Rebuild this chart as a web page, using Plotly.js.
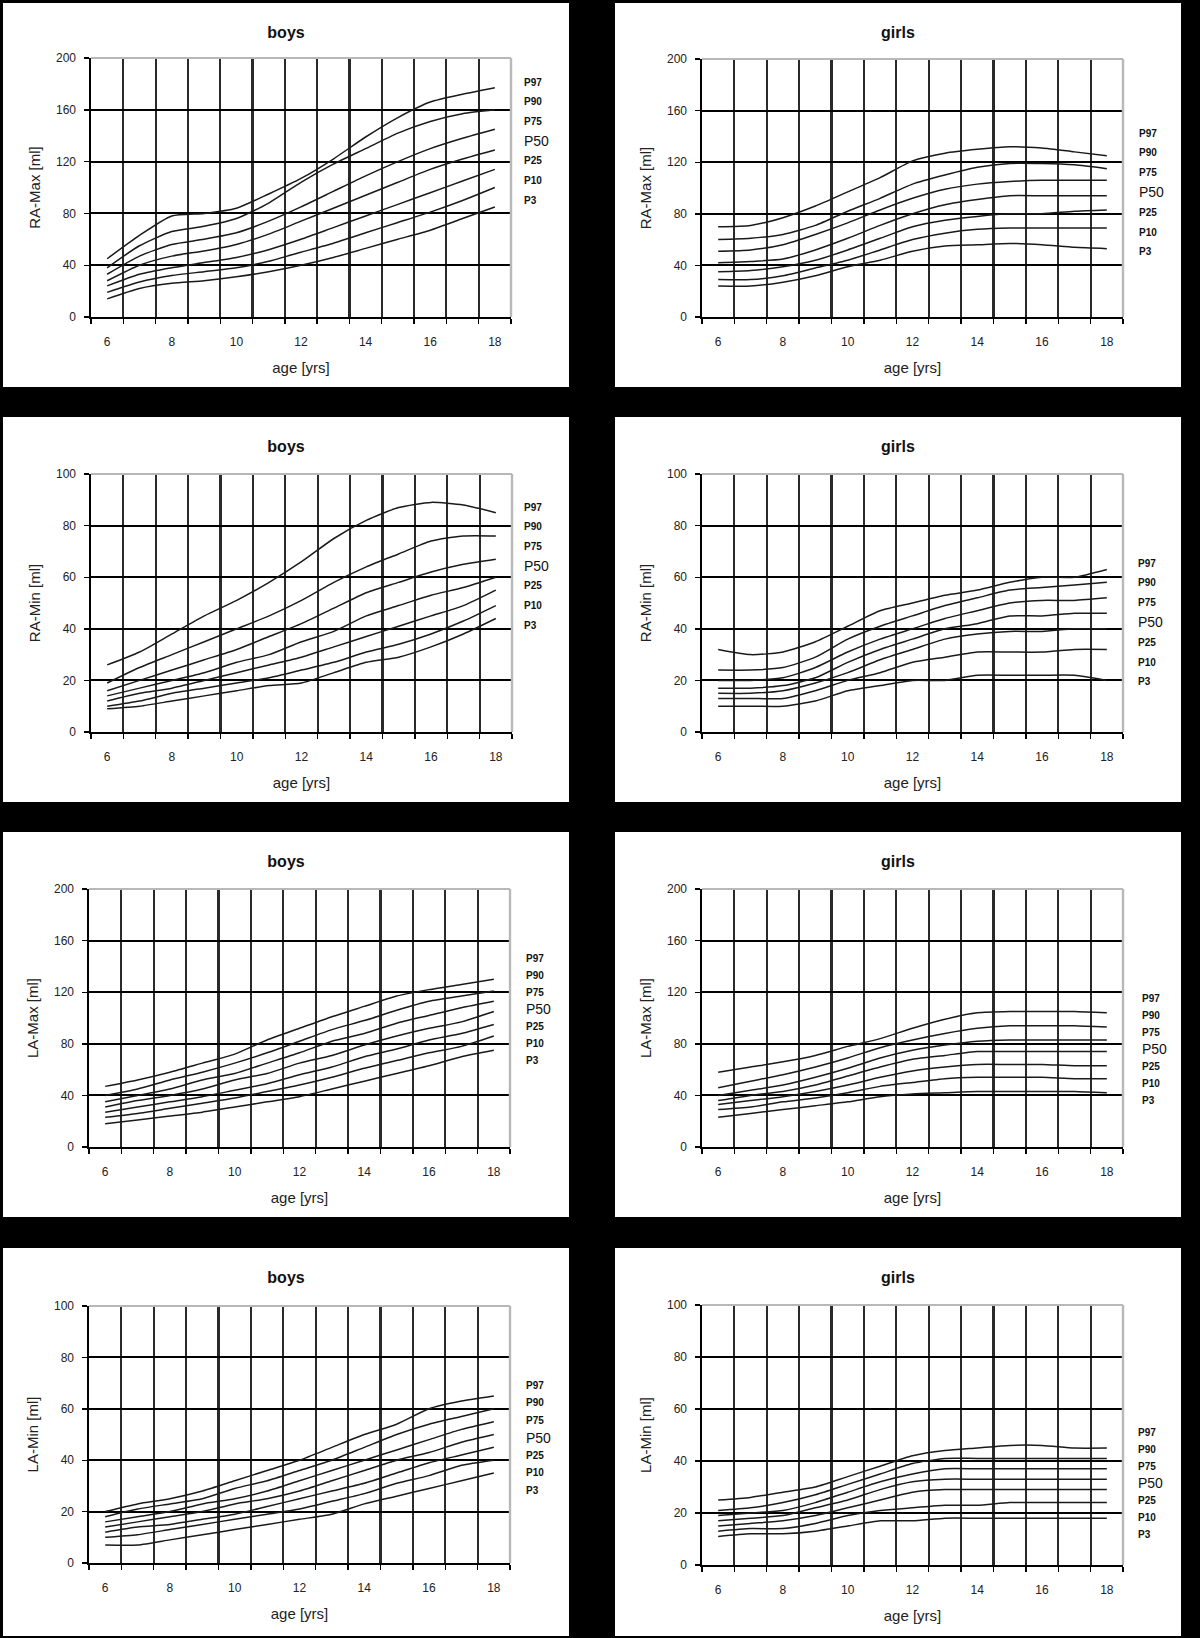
<!DOCTYPE html>
<html>
<head>
<meta charset="utf-8">
<script src="https://cdn.plot.ly/plotly-3.0.1.min.js"></script>
<style>
html,body{margin:0;padding:0;background:#000;}
body{width:1200px;height:1638px;position:relative;overflow:hidden;}
.panel{position:absolute;background:#fff;}
</style>
</head>
<body>
<div id="p1" class="panel"></div>
<div id="p2" class="panel"></div>
<div id="p3" class="panel"></div>
<div id="p4" class="panel"></div>
<div id="p5" class="panel"></div>
<div id="p6" class="panel"></div>
<div id="p7" class="panel"></div>
<div id="p8" class="panel"></div>
<script>
// ---------- data ----------
const ages = [6,7,8,9,10,11,12,13,14,15,16,17,18];
const xTickVals = [6,8,10,12,14,16,18];
const percentileLabels = ['P97','P90','P75','P50','P25','P10','P3'];

// series order in every table: P97, P90, P75, P50, P25, P10, P3
const raMaxBoys = [
  [45,63,78,80,84,95,107,122,139,154,166,172,177],
  [38,55,66,70,76,88,104,118,130,142,151,157,160],
  [33,47,56,60,65,74,85,97,109,120,130,138,145],
  [28,40,47,51,56,64,74,84,94,104,114,122,129],
  [24,33,38,42,46,52,60,69,78,87,96,105,114],
  [19,27,32,35,38,43,50,57,65,73,81,90,100],
  [14,22,26,28,31,35,40,46,53,60,67,76,85]
];
const raMaxGirls = [
  [70,71,77,86,97,108,121,127,130,132,131,128,125],
  [60,61,64,71,82,92,103,110,116,119,119,118,115],
  [51,52,56,64,73,83,92,99,103,105,106,106,106],
  [42,43,45,52,61,71,80,87,91,94,94,94,94],
  [35,36,39,44,52,61,70,75,78,80,80,82,83],
  [29,29,32,38,44,52,60,65,68,69,69,69,69],
  [24,24,27,32,39,44,51,55,56,57,56,54,53]
];
const raMinBoys = [
  [26,31,38,45,51,58,66,75,82,87,89,88,85],
  [19,25,30,35,40,45,51,58,64,69,74,76,76],
  [16,20,24,28,32,37,42,48,54,58,62,65,67],
  [14,17,20,23,27,30,35,39,45,49,53,56,60],
  [12,15,17,20,23,26,29,33,37,41,45,49,55],
  [10,12,15,17,19,21,24,27,31,34,38,43,49],
  [9,10,12,14,16,18,19,23,27,29,33,38,44]
];
const raMinGirls = [
  [32,30,31,35,41,47,50,53,55,58,60,60,63],
  [24,24,25,29,36,41,45,49,52,55,56,57,58],
  [20,20,21,25,31,36,40,44,47,50,51,51,52],
  [17,17,18,21,27,32,36,40,42,45,45,46,46],
  [15,15,16,19,23,28,32,36,38,39,39,40,40],
  [13,13,13,16,20,23,27,29,31,31,31,32,32],
  [10,10,10,12,16,18,20,20,22,22,22,22,20]
];
const laMaxBoys = [
  [47,52,58,65,72,83,92,101,109,117,122,126,130],
  [40,45,52,58,65,73,82,91,98,106,113,117,121],
  [35,40,45,52,57,65,73,82,88,96,102,108,113],
  [31,36,40,45,52,57,65,71,79,86,92,97,105],
  [27,31,35,39,44,49,56,62,70,76,83,88,95],
  [23,26,30,34,38,43,48,54,61,67,73,78,86],
  [18,21,24,27,31,35,39,45,51,57,63,70,75]
];
const laMaxGirls = [
  [58,62,66,71,78,84,92,99,104,105,105,105,104],
  [46,51,56,62,69,77,83,88,92,94,94,94,93],
  [40,44,48,54,61,69,75,79,82,83,83,83,83],
  [36,40,43,48,55,62,68,71,74,74,74,74,74],
  [33,36,39,43,48,54,59,62,64,64,64,63,63],
  [29,31,35,38,42,47,50,53,54,54,54,53,53],
  [23,26,29,32,35,39,41,42,43,43,43,43,42]
];
const laMinBoys = [
  [20,23,25,28,32,36,40,45,50,54,60,63,65],
  [18,21,23,25,29,32,36,40,45,50,54,57,60],
  [16,18,20,23,25,28,32,36,40,44,48,52,55],
  [14,16,18,20,23,25,28,32,36,40,43,47,50],
  [12,14,15,17,19,22,25,28,31,35,39,42,45],
  [10,11,13,15,17,19,21,24,27,31,34,38,40],
  [7,7,9,11,13,15,17,19,23,26,29,32,35]
];
const laMinGirls = [
  [25,26,28,30,34,38,42,44,45,46,46,45,45],
  [21,22,24,27,31,35,39,41,41,41,41,41,41],
  [19,20,21,24,28,32,35,37,37,37,37,37,37],
  [17,18,19,22,25,29,32,33,33,33,33,33,33],
  [15,16,17,19,22,25,28,29,29,29,29,29,29],
  [13,14,14,16,19,21,22,23,23,24,24,24,24],
  [11,12,12,13,15,17,17,18,18,18,18,18,18]
];

const panels = [
  {id:'p1', title:'boys',  yTitle:'RA-Max [ml]', yMax:200, yStep:40, series:raMaxBoys},
  {id:'p2', title:'girls', yTitle:'RA-Max [ml]', yMax:200, yStep:40, series:raMaxGirls},
  {id:'p3', title:'boys',  yTitle:'RA-Min [ml]', yMax:100, yStep:20, series:raMinBoys},
  {id:'p4', title:'girls', yTitle:'RA-Min [ml]', yMax:100, yStep:20, series:raMinGirls},
  {id:'p5', title:'boys',  yTitle:'LA-Max [ml]', yMax:200, yStep:40, series:laMaxBoys},
  {id:'p6', title:'girls', yTitle:'LA-Max [ml]', yMax:200, yStep:40, series:laMaxGirls},
  {id:'p7', title:'boys',  yTitle:'LA-Min [ml]', yMax:100, yStep:20, series:laMinBoys},
  {id:'p8', title:'girls', yTitle:'LA-Min [ml]', yMax:100, yStep:20, series:laMinGirls}
];

// ---------- layout / geometry ----------
const frames = [
  {left:3,   top:3,    w:566, h:384, l:88, t:55, pw:420, ph:259, lblTop:24,  lblGap:19.7, lblShift:11},
  {left:615, top:3,    w:566, h:384, l:87, t:56, pw:421, ph:258, lblTop:74,  lblGap:19.8, lblShift:14},
  {left:3,   top:417,  w:566, h:385, l:88, t:57, pw:421, ph:258, lblTop:33,  lblGap:19.7, lblShift:10},
  {left:615, top:417,  w:566, h:385, l:87, t:57, pw:421, ph:258, lblTop:89,  lblGap:19.8, lblShift:13},
  {left:3,   top:832,  w:566, h:385, l:86, t:57, pw:421, ph:258, lblTop:69,  lblGap:17,   lblShift:14},
  {left:615, top:832,  w:566, h:385, l:87, t:57, pw:421, ph:258, lblTop:109, lblGap:17,   lblShift:17},
  {left:3,   top:1248, w:566, h:388, l:86, t:58, pw:421, ph:257, lblTop:79,  lblGap:17.5, lblShift:14},
  {left:615, top:1248, w:566, h:388, l:87, t:57, pw:421, ph:260, lblTop:127, lblGap:17,   lblShift:13}
];

const FONT = 'Liberation Sans, Arial, sans-serif';

panels.forEach((p, k) => {
  const f = frames[k];
  const el = document.getElementById(p.id);
  el.style.left = f.left + 'px';
  el.style.top = f.top + 'px';
  el.style.width = f.w + 'px';
  el.style.height = f.h + 'px';

  const traces = p.series.map((vals, i) => ({
    x: ages, y: vals, type: 'scatter', mode: 'lines',
    name: percentileLabels[i],
    line: {color: '#1a1a1a', width: 1.5, shape: 'spline', smoothing: 0.6},
    hoverinfo: 'skip'
  }));

  const annotations = percentileLabels.map((lbl, i) => ({
    xref: 'paper', yref: 'paper',
    x: 1, xanchor: 'left', xshift: f.lblShift,
    y: 1 - (f.lblTop + i * f.lblGap) / f.ph, yanchor: 'middle',
    text: lbl === 'P50' ? lbl : '<b>' + lbl + '</b>',
    showarrow: false,
    font: {family: FONT, size: lbl === 'P50' ? 14 : 10, color: '#111'}
  }));

  const layout = {
    width: f.w, height: f.h,
    margin: {l: f.l, r: f.w - f.l - f.pw, t: f.t, b: f.h - f.t - f.ph, pad: 0},
    paper_bgcolor: '#fff', plot_bgcolor: '#fff',
    showlegend: false,
    font: {family: FONT, size: 12, color: '#222'},
    title: {
      text: '<b>' + p.title + '</b>',
      x: 0.5, xref: 'container', xanchor: 'center',
      y: 1 - 29 / f.h, yref: 'container', yanchor: 'middle',
      font: {family: FONT, size: 16, color: '#111'}
    },
    xaxis: {
      range: [5.5, 18.5], tickmode: 'array', tickvals: xTickVals,
      ticks: '', showgrid: false, zeroline: false,
      ticklabelstandoff: 13,
      tickfont: {size: 12, color: '#222'},
      showline: true, linecolor: '#000', linewidth: 1.6,
      minor: {
        tickmode: 'linear', tick0: 5.5, dtick: 1,
        showgrid: true, gridcolor: '#2a2a2a', gridwidth: 2.2,
        ticks: 'outside', ticklen: 5, tickcolor: '#000', tickwidth: 1.4
      },
      title: {text: 'age [yrs]', standoff: 14, font: {size: 15, color: '#222'}},
      fixedrange: true
    },
    yaxis: {
      range: [0, p.yMax], tickmode: 'linear', tick0: 0, dtick: p.yStep,
      showgrid: true, gridcolor: '#000', gridwidth: 2, zeroline: false,
      ticks: 'outside', ticklen: 5, tickcolor: '#000', tickwidth: 1.4,
      ticklabelstandoff: 6,
      tickfont: {size: 12, color: '#222'},
      showline: true, linecolor: '#000', linewidth: 1.6,
      title: {text: p.yTitle, standoff: 12, font: {size: 15, color: '#222'}},
      fixedrange: true
    },
    shapes: [
      {type: 'line', xref: 'x domain', yref: 'y domain', x0: 0, x1: 1, y0: 1, y1: 1,
       line: {color: '#b8b8b8', width: 2.2}, layer: 'above'},
      {type: 'line', xref: 'x domain', yref: 'y domain', x0: 1, x1: 1, y0: 0, y1: 1,
       line: {color: '#b8b8b8', width: 2.4}, layer: 'above'}
    ],
    annotations: annotations
  };

  Plotly.newPlot(el, traces, layout, {displayModeBar: false, staticPlot: true});
});
</script>
</body>
</html>
